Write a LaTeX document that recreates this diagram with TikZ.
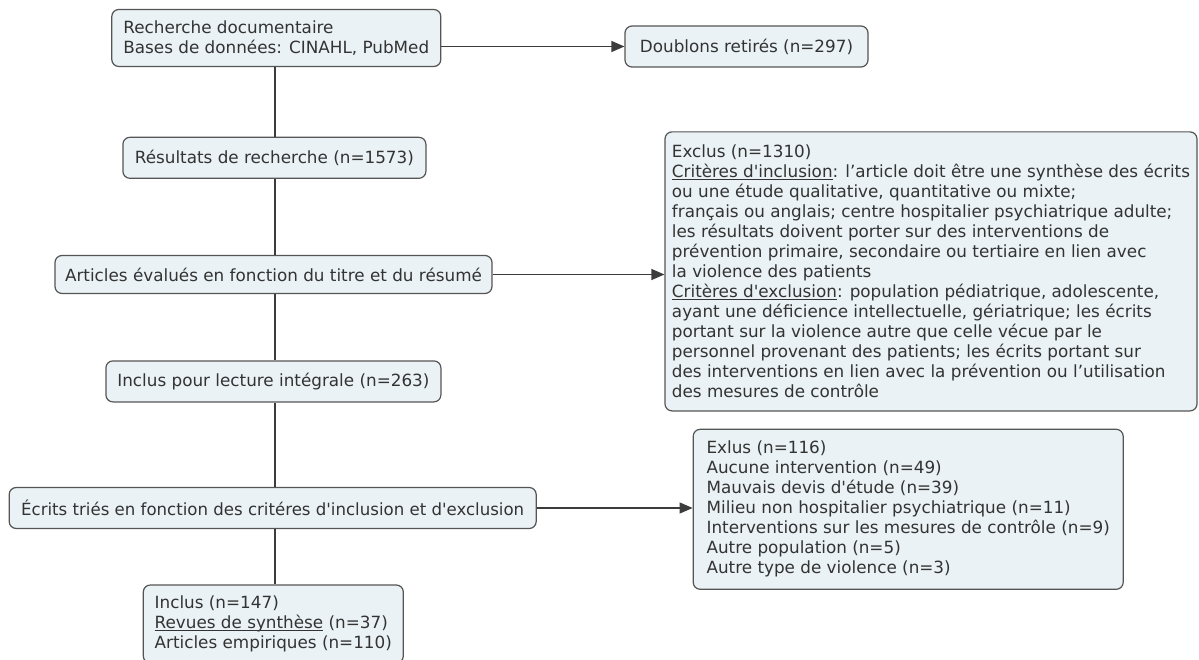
\documentclass[tikz,border=0pt]{standalone}
\usepackage{fontspec}
\setmainfont{DejaVu Sans}
\usepackage{graphicx}
\usetikzlibrary{arrows.meta}
\definecolor{boxfill}{RGB}{234,242,245}
\definecolor{boxdraw}{RGB}{85,85,85}
\definecolor{txt}{RGB}{51,51,51}
\definecolor{linec}{RGB}{60,60,60}
\newcommand\ulin[1]{\underline{\smash{#1}}}
\begin{document}
\begin{tikzpicture}[x=1pt,y=-1pt,
  box/.style={draw=boxdraw, fill=boxfill, rounded corners=7pt, line width=1.2pt,
    text=txt, font=\fontsize{16.8}{20}\selectfont, inner xsep=0pt, inner ysep=0pt, align=left},
  conn/.style={draw=linec, line width=1.2pt},
  arr/.style={conn, -{Triangle[length=13pt,width=11pt]}}]
\useasboundingbox (0,0) rectangle (1199,660);
\fill[white] (0,0) rectangle (1199,660);
\coordinate (vx) at (275,0);

\node[box, minimum width=329pt, minimum height=57pt] (rech) at (276.3,38)
  {Recherche documentaire\\Bases de données: CINAHL, PubMed};
\node[box, minimum width=243pt, minimum height=41pt] (doub) at (746.5,46.5)
  {Doublons retirés (n=297)};
\node[box, minimum width=303pt, minimum height=41pt] (res) at (274.4,157.8)
  {Résultats de recherche (n=1573)};
\node[box, minimum width=437pt, minimum height=38pt] (art) at (273.5,274.5)
  {Articles évalués en fonction du titre et du résumé};
\node[box, minimum width=532pt, minimum height=279pt] (excl) at (931,271.4)
  {Exclus (n=1310)\\
   \ulin{Critères d\textquotesingle inclusion}: l’article doit être une synthèse des écrits\\
   ou une étude qualitative, quantitative ou mixte;\\
   français ou anglais; centre hospitalier psychiatrique adulte;\\
   les résultats doivent porter sur des interventions de\\
   prévention primaire, secondaire ou tertiaire en lien avec\\
   la violence des patients\\
   \ulin{Critères d\textquotesingle exclusion}: population pédiatrique, adolescente,\\
   ayant une déficience intellectuelle, gériatrique; les écrits\\
   portant sur la violence autre que celle vécue par le\\
   personnel provenant des patients; les écrits portant sur\\
   des interventions en lien avec la prévention ou l’utilisation\\
   des mesures de contrôle};
\node[box, minimum width=335pt, minimum height=41pt] (incl) at (273.4,381.4)
  {Inclus pour lecture intégrale (n=263)};
\node[box, minimum width=527pt, minimum height=41pt] (ecr) at (272.7,508)
  {\resizebox{503pt}{\height}{Écrits triés en fonction des critéres d\textquotesingle inclusion et d\textquotesingle exclusion}};
\node[box, minimum width=430pt, minimum height=160pt] (exlus) at (908.2,509.3)
  {Exlus (n=116)\\
   Aucune intervention (n=49)\\
   Mauvais devis d\textquotesingle étude (n=39)\\
   Milieu non hospitalier psychiatrique (n=11)\\
   Interventions sur les mesures de contrôle (n=9)\\
   Autre population (n=5)\\
   Autre type de violence (n=3)};
\node[box, minimum width=260pt, minimum height=78pt] (fin) at (273.3,624)
  {Inclus (n=147)\\
   \ulin{Revues de synthèse} (n=37)\\
   Articles empiriques (n=110)};

\draw[conn] (rech.south -| vx) -- (res.north -| vx);
\draw[conn] (res.south -| vx) -- (art.north -| vx);
\draw[conn] (art.south -| vx) -- (incl.north -| vx);
\draw[conn] (incl.south -| vx) -- (ecr.north -| vx);
\draw[conn] (ecr.south -| vx) -- (fin.north -| vx);

\draw[arr] (rech.east |- doub.west) -- (doub.west);
\draw[arr] (art.east) -- (art.east -| excl.west);
\draw[arr] (ecr.east) -- (ecr.east -| exlus.west);
\end{tikzpicture}
\end{document}
